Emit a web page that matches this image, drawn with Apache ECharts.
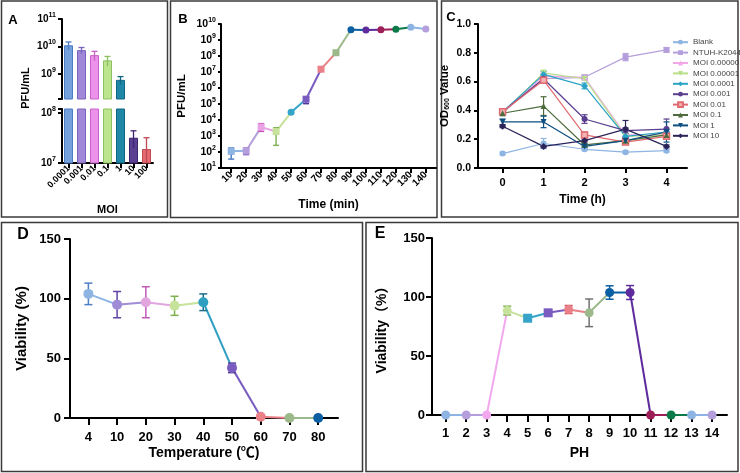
<!DOCTYPE html>
<html>
<head>
<meta charset="utf-8">
<script src="https://cdn.jsdelivr.net/npm/echarts@6/dist/echarts.min.js"></script>
<style>
html, body { margin: 0; padding: 0; background: #fff; }
#chart { width: 740px; height: 473px; }
</style>
</head>
<body>
<div id="chart"></div>
<script>
// A - titer at different MOI
const moiLabels = ['0.0001', '0.001', '0.01', '0.1', '1', '10', '100'];
const moiTiter = [1.1e10, 7.3e9, 4.8e9, 3.1e9, 6.0e8, 3.2e7, 1.9e7];
const moiTiterSd = [3.5e9, 1.8e9, 1.8e9, 1.2e9, 1.9e8, 1.2e7, 1.3e7];

// B - one-step growth curve
const growthTimes = ['10', '20', '30', '40', '50', '60', '70', '80', '90', '100', '110', '120', '130', '140'];
const growthTiter = [110, 120, 3600, 1900, 3.0e4, 2.0e5, 1.5e7, 1.6e8, 4.4e9, 4.2e9, 4.4e9, 4.7e9, 6.2e9, 4.8e9];
const growthLow = [36, 68, 1950, 260, 2.5e4, 1.05e5, 1.1e7, 1.3e8, 3.9e9, 3.7e9, 3.9e9, 4.2e9, 5.6e9, 4.2e9];
const growthHigh = [178, 178, 5900, 3300, 3.6e4, 2.6e5, 2.0e7, 2.0e8, 5.0e9, 4.7e9, 5.0e9, 5.3e9, 6.9e9, 5.4e9];

// C - OD600 curves
const odHours = [0, 1, 2, 3, 4];
const odNames = ['Blank', 'NTUH-K2044', 'MOI 0.000001', 'MOI 0.00001', 'MOI 0.0001', 'MOI 0.001', 'MOI 0.01', 'MOI 0.1', 'MOI 1', 'MOI 10'];
const odBlank = [0.10, 0.17, 0.13, 0.11, 0.12];
const odHost = [0.39, 0.62, 0.63, 0.77, 0.82];
const odMoi6 = [0.38, 0.64, 0.63, 0.23, 0.23];
const odMoi5 = [0.38, 0.66, 0.62, 0.22, 0.23];
const odMoi4 = [0.39, 0.65, 0.57, 0.22, 0.25];
const odMoi3 = [0.39, 0.62, 0.34, 0.26, 0.27];
const odMoi2 = [0.39, 0.61, 0.23, 0.18, 0.22];
const odMoi1 = [0.38, 0.43, 0.16, 0.19, 0.23];
const odMoi0 = [0.32, 0.32, 0.15, 0.19, 0.25];
const odMoi10 = [0.29, 0.15, 0.19, 0.27, 0.15];
const odValues = [odBlank, odHost, odMoi6, odMoi5, odMoi4, odMoi3, odMoi2, odMoi1, odMoi0, odMoi10];
const odSd = [
    [0.01, 0.035, 0.01, 0.01, 0.01],
    [0.01, 0.02, 0.015, 0.025, 0.015],
    [0.01, 0.02, 0.01, 0.02, 0.02],
    [0.01, 0.02, 0.01, 0.02, 0.02],
    [0.01, 0.02, 0.02, 0.02, 0.02],
    [0.01, 0.02, 0.03, 0.02, 0.07],
    [0.01, 0.02, 0.02, 0.01, 0.02],
    [0.01, 0.065, 0.01, 0.02, 0.02],
    [0.02, 0.04, 0.01, 0.02, 0.07],
    [0.01, 0.01, 0.01, 0.06, 0.01]
];

// D - temperature stability
const tempLabels = ['4', '10', '20', '30', '40', '50', '60', '70', '80'];
const tempViab = [104, 95, 97, 94, 97, 42, 1, 0, 0];
const tempSd = [9, 11, 13, 8, 7, 4, 0, 0, 0];

// E - pH stability
const phLabels = ['1', '2', '3', '4', '5', '6', '7', '8', '9', '10', '11', '12', '13', '14'];
const phViab = [0, 0, 0, 88.5, 82, 86.6, 89.4, 86.6, 103.8, 103.8, 0, 0, 0, 0];
const phSd = [0, 0, 0, 3.7, 2.5, 2.5, 3.4, 11.7, 5.7, 5.9, 0, 0, 0, 0];

const FONT = "'Liberation Sans', Arial, 'Noto Sans CJK SC', sans-serif";

// colours
const barFill = ['#74a0dc', '#9f88d8', '#ec92ea', '#bde48f', '#1f87a8', '#5b3f92', '#e46b73'];
const barEdge = ['#4b7cc4', '#7a62c0', '#c862c8', '#8dc060', '#116682', '#3e2570', '#c24850'];
const growthColors = ['#8db4e2', '#b49fdc', '#e9a3e4', '#c6e29b', '#35a4c8', '#7a5cc0', '#ea8088', '#9bb98a', '#0b5fa3', '#5e2b9e', '#9e1f58', '#0b7a48', '#8db4e2', '#b49fdc'];
const growthErrColors = ['#4f7fc4', '#8e6fc8', '#c64fbd', '#85b35a', '#1f7fa0', '#51379c', '#d0505b', '#6f8e5f', '#0b5fa3', '#5e2b9e', '#9e1f58', '#0b7a48', '#4f7fc4', '#8e6fc8'];
const growthShapes = ['rect', 'rect', 'rect', 'rect', 'circle', 'rect', 'rect', 'rect', 'circle', 'circle', 'circle', 'circle', 'circle', 'circle'];
const odColors = ['#8db4e2', '#b49fdc', '#f2a8e6', '#b8e08a', '#2ba3c6', '#5a3e8f', '#e06a70', '#4d6b3c', '#0d4e80', '#2b2458'];
const odSymbols = ['circle', 'rect', 'triangle', 'triangle', 'diamond', 'circle', 'rect', 'triangle', 'triangle', 'diamond'];
const odRotate = [0, 0, 0, 180, 0, 0, 0, 0, 180, 0];
const tempColors = ['#8db4e2', '#9f8bd6', '#e2a6df', '#c6e29b', '#2f9fc2', '#7a5cc0', '#ea8088', '#9bb98a', '#0b5fa3'];
const tempErrColors = ['#4f7fc4', '#6044a8', '#c05bb8', '#7fb04f', '#1f6f8c', '#51379c', '#d0505b', '#6f8e5f', '#0b5fa3'];
const phColors = ['#8db4e2', '#b49fdc', '#f2a8ee', '#c6e29b', '#35a4c8', '#7a5cc0', '#ea8088', '#9bb98a', '#0b5fa3', '#5e2b9e', '#9e1f58', '#0b7a48', '#8db4e2', '#b49fdc'];
const phErrColors = ['#4f7fc4', '#8e6fc8', '#c64fbd', '#7fb04f', '#1f7fa0', '#51379c', '#d0505b', '#707070', '#0b5fa3', '#5e2b9e', '#9e1f58', '#0b7a48', '#4f7fc4', '#8e6fc8'];
const phShapes = ['circle', 'circle', 'circle', 'circle', 'rect', 'rect', 'circle', 'circle', 'circle', 'circle', 'circle', 'circle', 'circle', 'circle'];

const chart = echarts.init(document.getElementById('chart'));

const axisLine = { show: true, onZero: false, lineStyle: { color: '#000', width: 2 } };
function ticks(len, values) {
    const t = { show: true, inside: false, length: len, lineStyle: { color: '#000', width: 2 } };
    if (values) t.customValues = values;
    return t;
}
function labelStyle(size, extra) {
    return Object.assign({ color: '#000', fontWeight: 'bold', fontFamily: FONT, fontSize: size }, extra || {});
}
function nameStyle(size, extra) {
    return Object.assign({ color: '#000', fontWeight: 'bold', fontFamily: FONT, fontSize: size }, extra || {});
}
function powerLabel(v) {
    const e = Math.log10(v);
    if (Math.abs(e - Math.round(e)) > 1e-6) return '';
    return '{b|10}{s|' + Math.round(e) + '}';
}
function powerRich(base, sup) {
    return {
        b: { fontSize: base, fontWeight: 'bold', fontFamily: FONT, color: '#000', lineHeight: base + 5 },
        s: { fontSize: sup, fontWeight: 'bold', fontFamily: FONT, color: '#000', lineHeight: sup, verticalAlign: 'top' }
    };
}
function indexList(arr) {
    return arr.map((_, i) => i);
}

// line pieces between neighbours, each in the colour of its left point
function segmentSeries(axis, values, colors, width) {
    return {
        type: 'custom', xAxisIndex: axis, yAxisIndex: axis, z: 2, silent: true,
        data: values.map((v, i) => [i, v]),
        renderItem(params, api) {
            const i = params.dataIndex;
            if (i >= values.length - 1) return null;
            const a = api.coord([i, values[i]]);
            const b = api.coord([i + 1, values[i + 1]]);
            return {
                type: 'line',
                shape: { x1: a[0], y1: a[1], x2: b[0], y2: b[1] },
                style: { stroke: colors[i], lineWidth: width }
            };
        }
    };
}

function markerSeries(axis, values, low, high, colors, errColors, shapes, size, cap) {
    return {
        type: 'custom', xAxisIndex: axis, yAxisIndex: axis, z: 3, silent: true,
        data: values.map((v, i) => [i, v]),
        renderItem(params, api) {
            const i = params.dataIndex;
            const c = api.coord([i, values[i]]);
            const children = [];
            if (high[i] !== low[i]) {
                const t = api.coord([i, high[i]]);
                const b = api.coord([i, low[i]]);
                const s = { stroke: errColors[i], lineWidth: 1.5 };
                children.push({ type: 'line', shape: { x1: c[0], y1: t[1], x2: c[0], y2: b[1] }, style: s });
                children.push({ type: 'line', shape: { x1: c[0] - cap, y1: t[1], x2: c[0] + cap, y2: t[1] }, style: s });
                children.push({ type: 'line', shape: { x1: c[0] - cap, y1: b[1], x2: c[0] + cap, y2: b[1] }, style: s });
            }
            if (shapes[i] === 'rect') {
                children.push({ type: 'rect', shape: { x: c[0] - size, y: c[1] - size, width: size * 2, height: size * 2 }, style: { fill: colors[i] } });
            } else {
                children.push({ type: 'circle', shape: { cx: c[0], cy: c[1], r: size }, style: { fill: colors[i] } });
            }
            return { type: 'group', children: children };
        }
    };
}

// A: bars + error bars, drawn twice (upper and lower part of the broken axis)
function moiBars(axis) {
    return {
        type: 'bar', xAxisIndex: axis, yAxisIndex: axis, barWidth: 9, clip: true, silent: true,
        data: moiTiter.map((v, i) => ({ value: v, itemStyle: { color: barFill[i], borderColor: barEdge[i], borderWidth: 1 } }))
    };
}
function moiErrors(axis) {
    return {
        type: 'custom', xAxisIndex: axis, yAxisIndex: axis, clip: true, z: 3, silent: true,
        data: moiTiter.map((v, i) => [i, v]),
        renderItem(params, api) {
            const i = params.dataIndex;
            const c = api.coord([i, moiTiter[i]]);
            const t = api.coord([i, moiTiter[i] + moiTiterSd[i]]);
            const b = api.coord([i, moiTiter[i] - moiTiterSd[i]]);
            const s = { stroke: barEdge[i], lineWidth: 1.3 };
            return {
                type: 'group',
                children: [
                    { type: 'line', shape: { x1: c[0], y1: t[1], x2: c[0], y2: b[1] }, style: s },
                    { type: 'line', shape: { x1: c[0] - 3, y1: t[1], x2: c[0] + 3, y2: t[1] }, style: s }
                ]
            };
        }
    };
}

const tempLow = tempViab.map((v, i) => v - tempSd[i]);
const tempHigh = tempViab.map((v, i) => v + tempSd[i]);
const phLow = phViab.map((v, i) => v - phSd[i]);
const phHigh = phViab.map((v, i) => v + phSd[i]);

const odLines = odNames.map((name, k) => ({
    name: name, type: 'line', xAxisIndex: 3, yAxisIndex: 3, z: 3, silent: true,
    data: odHours.map((h, j) => [h, odValues[k][j]]),
    symbol: odSymbols[k],
    symbolSize: odSymbols[k] === 'diamond' ? 7 : 6,
    symbolRotate: odRotate[k],
    showAllSymbol: true,
    lineStyle: { color: odColors[k], width: 1.2 },
    itemStyle: k === 6
        ? { color: '#f4b3b5', borderColor: odColors[k], borderWidth: 1.5 }
        : { color: odColors[k] }
}));

const odErrData = [];
odValues.forEach((vals, k) => vals.forEach((v, j) => odErrData.push([odHours[j], v, odSd[k][j], k])));
const odErrors = {
    type: 'custom', xAxisIndex: 3, yAxisIndex: 3, z: 2, silent: true,
    data: odErrData,
    renderItem(params, api) {
        const h = api.value(0), v = api.value(1), sd = api.value(2), k = api.value(3);
        const t = api.coord([h, v + sd]);
        const b = api.coord([h, v - sd]);
        const s = { stroke: odColors[k], lineWidth: 1.2 };
        return {
            type: 'group',
            children: [
                { type: 'line', shape: { x1: t[0], y1: t[1], x2: b[0], y2: b[1] }, style: s },
                { type: 'line', shape: { x1: t[0] - 3, y1: t[1], x2: t[0] + 3, y2: t[1] }, style: s },
                { type: 'line', shape: { x1: b[0] - 3, y1: b[1], x2: b[0] + 3, y2: b[1] }, style: s }
            ]
        };
    }
};

const boxStyle = { fill: 'none', stroke: '#3a3a3a', lineWidth: 1.5 };
function box(x, y, w, h) {
    return { type: 'rect', silent: true, shape: { x: x, y: y, width: w, height: h }, style: boxStyle };
}
function letter(t, x, y, size) {
    return { type: 'text', x: x, y: y, silent: true, style: { text: t, fill: '#000', font: 'bold ' + size + 'px ' + FONT, align: 'center', verticalAlign: 'middle' } };
}

const option = {
    animation: false,
    backgroundColor: '#fff',
    grid: [
        { left: 62, top: 19, width: 91, height: 80, containLabel: false, outerBoundsMode: 'none' },
        { left: 62, top: 109, width: 91, height: 54, containLabel: false, outerBoundsMode: 'none' },
        { left: 221, top: 24, width: 215, height: 144, containLabel: false, outerBoundsMode: 'none' },
        { left: 478, top: 24, width: 209, height: 144, containLabel: false, outerBoundsMode: 'none' },
        { left: 70, top: 239, width: 268, height: 179, containLabel: false, outerBoundsMode: 'none' },
        { left: 432, top: 238, width: 295, height: 177, containLabel: false, outerBoundsMode: 'none' }
    ],
    xAxis: [
        { gridIndex: 0, type: 'category', data: moiLabels, show: false },
        {
            gridIndex: 1, type: 'category', data: moiLabels,
            axisLine: axisLine, axisTick: Object.assign(ticks(5), { alignWithLabel: true }),
            axisLabel: labelStyle(9, { rotate: 45, margin: 4, interval: 0 }),
            splitLine: { show: false },
            name: 'MOI', nameLocation: 'middle', nameGap: 41, nameMoveOverlap: false, nameTextStyle: nameStyle(11)
        },
        {
            gridIndex: 2, type: 'value', min: -0.68, max: 13.68,
            axisLine: axisLine, axisTick: ticks(5, indexList(growthTimes)),
            axisLabel: labelStyle(10, { rotate: 45, margin: 5, customValues: indexList(growthTimes), formatter: v => growthTimes[Math.round(v)] }),
            splitLine: { show: false },
            name: 'Time (min)', nameLocation: 'middle', nameGap: 31, nameMoveOverlap: false, nameTextStyle: nameStyle(12)
        },
        {
            gridIndex: 3, type: 'value', min: -0.6, max: 4.5,
            axisLine: axisLine, axisTick: ticks(5, odHours),
            axisLabel: labelStyle(11, { margin: 9, customValues: odHours, formatter: v => String(v) }),
            splitLine: { show: false },
            name: 'Time (h)', nameLocation: 'middle', nameGap: 26, nameMoveOverlap: false, nameTextStyle: nameStyle(12)
        },
        {
            gridIndex: 4, type: 'value', min: -0.64, max: 8.69,
            axisLine: axisLine, axisTick: ticks(7, indexList(tempLabels)),
            axisLabel: labelStyle(13, { margin: 13, customValues: indexList(tempLabels), formatter: v => tempLabels[Math.round(v)] }),
            splitLine: { show: false },
            name: 'Temperature (℃)', nameLocation: 'middle', nameGap: 28, nameMoveOverlap: false, nameTextStyle: nameStyle(14)
        },
        {
            gridIndex: 5, type: 'value', min: -0.67, max: 13.73,
            axisLine: axisLine, axisTick: ticks(7, indexList(phLabels)),
            axisLabel: labelStyle(13, { margin: 12, customValues: indexList(phLabels), formatter: v => phLabels[Math.round(v)] }),
            splitLine: { show: false },
            name: 'PH', nameLocation: 'middle', nameGap: 31, nameMoveOverlap: false, nameTextStyle: nameStyle(14)
        }
    ],
    yAxis: [
        {
            gridIndex: 0, type: 'log', min: 1.2e8, max: 1e11,
            axisLine: axisLine, axisTick: ticks(4), splitLine: { show: false },
            axisLabel: { margin: 6, formatter: powerLabel, rich: powerRich(10, 7) }
        },
        {
            gridIndex: 1, type: 'log', min: 1e7, max: 1.2e8,
            axisLine: axisLine, axisTick: ticks(4), splitLine: { show: false },
            axisLabel: { margin: 6, formatter: powerLabel, rich: powerRich(10, 7) }
        },
        {
            gridIndex: 2, type: 'log', min: 10, max: 1e10,
            axisLine: axisLine, axisTick: ticks(3), splitLine: { show: false },
            axisLabel: { margin: 5, formatter: powerLabel, rich: powerRich(10.5, 7) },
            name: 'PFU/mL', nameLocation: 'middle', nameGap: 33, nameMoveOverlap: false, nameTextStyle: nameStyle(11.5)
        },
        {
            gridIndex: 3, type: 'value', min: 0, max: 1, interval: 0.2,
            axisLine: axisLine, axisTick: ticks(4), splitLine: { show: false },
            axisLabel: labelStyle(10.5, { margin: 7, formatter: v => v.toFixed(1) }),
            name: 'OD{sub|600} Value', nameLocation: 'middle', nameGap: 27, nameMoveOverlap: false,
            nameTextStyle: nameStyle(11.5, { lineHeight: 13, rich: { sub: { fontSize: 7, fontWeight: 'bold', fontFamily: FONT, color: '#000', lineHeight: 7, verticalAlign: 'bottom' } } })
        },
        {
            gridIndex: 4, type: 'value', min: 0, max: 150, interval: 50,
            axisLine: axisLine, axisTick: ticks(6), splitLine: { show: false },
            axisLabel: labelStyle(13, { margin: 9 }),
            name: 'Viability (%)', nameLocation: 'middle', nameGap: 41, nameMoveOverlap: false, nameTextStyle: nameStyle(15)
        },
        {
            gridIndex: 5, type: 'value', min: 0, max: 150, interval: 50,
            axisLine: axisLine, axisTick: ticks(6), splitLine: { show: false },
            axisLabel: labelStyle(13, { margin: 7 }),
            name: 'Viability（%）', nameLocation: 'middle', nameGap: 43, nameMoveOverlap: false, nameTextStyle: nameStyle(14)
        }
    ],
    legend: {
        data: odNames, orient: 'vertical', left: 672, top: 37,
        itemWidth: 15, itemHeight: 6, itemGap: 0, padding: 0,
        textStyle: { color: '#444', fontSize: 8, fontFamily: FONT, lineHeight: 10.4 },
        selectedMode: false
    },
    series: [
        moiBars(0), moiBars(1), moiErrors(0), moiErrors(1),
        segmentSeries(2, growthTiter, growthColors, 2),
        markerSeries(2, growthTiter, growthLow, growthHigh, growthColors, growthErrColors, growthShapes, 3.5, 3),
        ...odLines, odErrors,
        segmentSeries(4, tempViab, tempColors, 2),
        markerSeries(4, tempViab, tempLow, tempHigh, tempColors, tempErrColors, tempLabels.map(() => 'circle'), 5, 4),
        segmentSeries(5, phViab, phColors, 2),
        markerSeries(5, phViab, phLow, phHigh, phColors, phErrColors, phShapes, 4.5, 4)
    ],
    graphic: [
        box(1.5, 1, 166, 216),
        box(170.5, 1, 266.5, 216.5),
        box(441.5, 1, 296.5, 216),
        box(1.5, 222.5, 361, 249),
        box(366, 222.5, 372, 249),
        letter('A', 13, 20, 13),
        letter('B', 183, 19, 13),
        letter('C', 451, 17, 13),
        letter('D', 23, 235, 16),
        letter('E', 380, 234, 16),
        {
            type: 'text', x: 26, y: 88, rotation: Math.PI / 2, silent: true,
            style: { text: 'PFU/mL', fill: '#000', font: 'bold 11px ' + FONT, align: 'center', verticalAlign: 'middle' }
        }
    ]
};

chart.setOption(option);
</script>
</body>
</html>
